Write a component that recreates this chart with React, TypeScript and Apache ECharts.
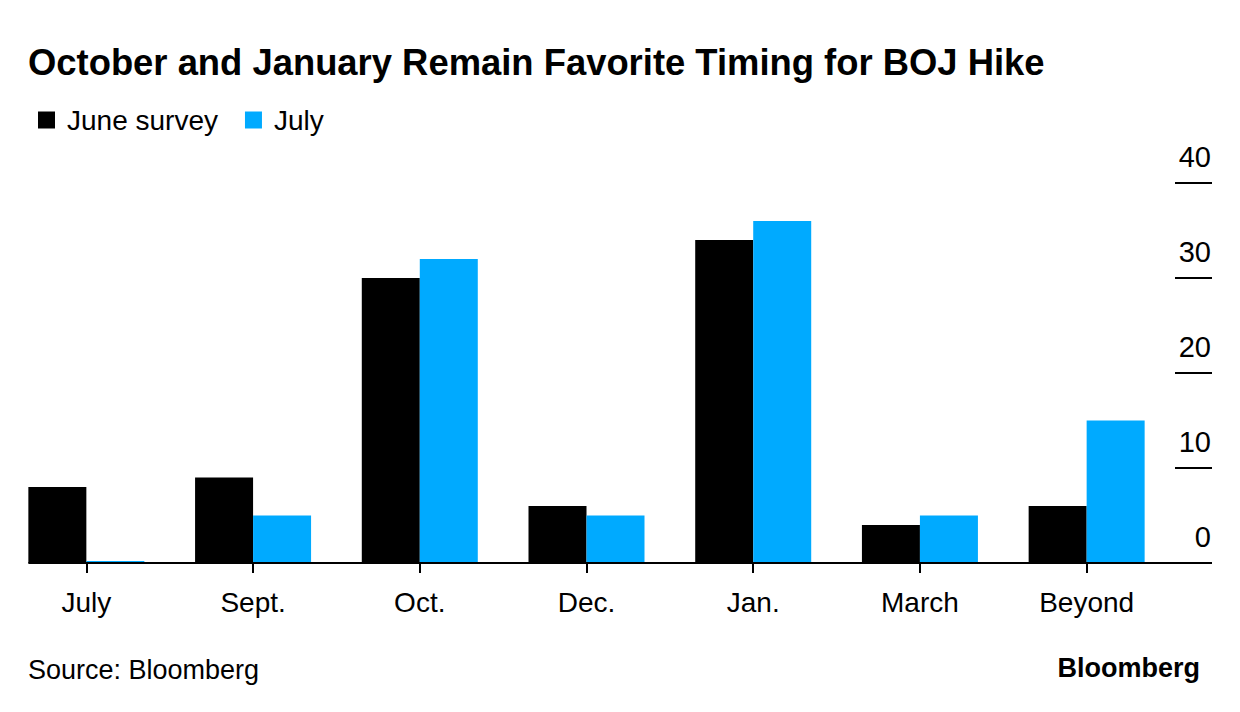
import React, { useEffect, useRef } from "react";
import * as echarts from "echarts";

const categories = ["July", "Sept.", "Oct.", "Dec.", "Jan.", "March", "Beyond"];
const juneSurvey = [8, 9, 30, 6, 34, 4, 6];
const julySurvey = [0.2, 5, 32, 5, 36, 5, 15];
const yTicks = [0, 10, 20, 30, 40];

const FONT = "'Liberation Sans', Arial, Helvetica, sans-serif";

export default function App() {
  const ref = useRef<HTMLDivElement>(null);
  useEffect(() => {
    if (!ref.current) return;
    const chart = echarts.init(ref.current, undefined, { renderer: "svg" });
    const option: any = {
      animation: false,
      backgroundColor: "#ffffff",
      textStyle: { fontFamily: FONT },
      grid: { left: 3, right: 70, top: 183, bottom: 149, containLabel: false },
      legend: {
        left: 33,
        top: 101,
        icon: "rect",
        itemWidth: 17,
        itemHeight: 17,
        itemGap: 27,
        selectedMode: false,
        textStyle: { fontSize: 28, color: "#000", fontFamily: FONT, padding: [0, 0, 0, 7] },
        data: ["June survey", "July"],
      },
      xAxis: {
        type: "category",
        data: categories,
        axisLine: { show: false },
        axisTick: { show: true, alignWithLabel: true, length: 10, lineStyle: { color: "#000", width: 2 } },
        axisLabel: { fontSize: 28, color: "#000", fontFamily: FONT, margin: 25 },
      },
      yAxis: {
        type: "value",
        position: "right",
        offset: 5,
        min: yTicks[0],
        max: yTicks[yTicks.length - 1],
        interval: 10,
        splitLine: { show: false },
        axisLine: { show: false },
        axisTick: { show: true, length: 37, lineStyle: { color: "#000", width: 2 } },
        axisLabel: {
          fontSize: 29,
          color: "#000",
          fontFamily: FONT,
          align: "right",
          verticalAlign: "bottom",
          margin: 36,
          padding: [0, 0, 12, 0],
        },
      },
      series: [
        {
          name: "June survey",
          type: "bar",
          data: juneSurvey,
          barWidth: 58,
          barGap: "0%",
          itemStyle: { color: "#000000" },
        },
        {
          name: "July",
          type: "bar",
          data: julySurvey,
          barWidth: 58,
          barGap: "0%",
          itemStyle: { color: "#00aaff" },
        },
      ],
    };
    chart.setOption(option);
    const zeroY = chart.convertToPixel({ yAxisIndex: 0 }, 0) as number;
    const firstX = chart.convertToPixel({ xAxisIndex: 0 }, categories[0]) as number;
    chart.setOption({
      graphic: [
        {
          type: "line",
          z: 10,
          shape: { x1: firstX - 58, y1: zeroY, x2: 1212, y2: zeroY },
          style: { stroke: "#000", lineWidth: 2 },
        },
        {
          type: "text",
          x: 28,
          y: 62,
          style: {
            text: "October and January Remain Favorite Timing for BOJ Hike",
            font: `bold 36.4px ${FONT}`,
            fill: "#000",
            verticalAlign: "middle",
          },
        },
        {
          type: "text",
          x: 28,
          y: 670,
          style: {
            text: "Source: Bloomberg",
            font: `27px ${FONT}`,
            fill: "#000",
            verticalAlign: "middle",
          },
        },
        {
          type: "text",
          x: 1200,
          y: 668,
          style: {
            text: "Bloomberg",
            font: `bold 27px ${FONT}`,
            fill: "#000",
            align: "right",
            verticalAlign: "middle",
          },
        },
      ],
    });
    return () => chart.dispose();
  }, []);
  return (
    <div
      ref={ref}
      style={{ position: "absolute", left: 0, top: 0, width: 1240, height: 712, background: "#fff" }}
    />
  );
}
